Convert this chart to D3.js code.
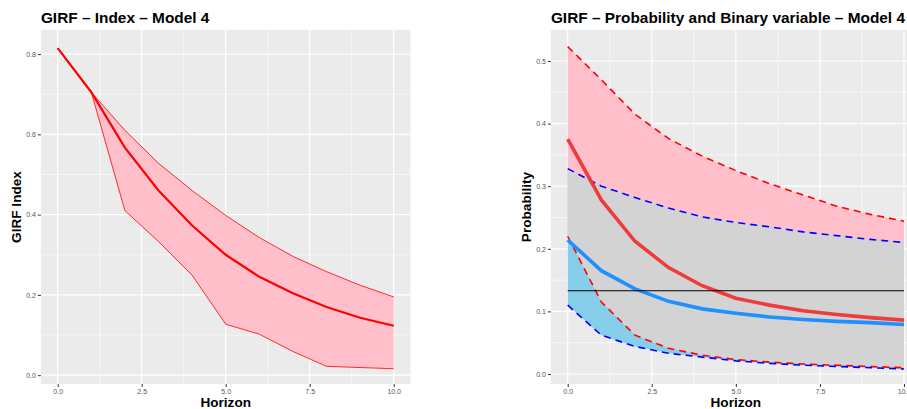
<!DOCTYPE html>
<html>
<head>
<meta charset="utf-8">
<script src="https://cdn.jsdelivr.net/npm/d3@7"></script>
<style>
  body { margin: 0; background: #fff; }
  svg { display: block; font-family: "Liberation Sans", Arial, sans-serif; }
</style>
</head>
<body>
<script>
// horizons (x axis)
var horizon = [0, 1, 2, 3, 4, 5, 6, 7, 8, 9, 10];

// left panel: GIRF of the index, with its band
var indexMid = [0.815, 0.705, 0.567, 0.460, 0.373, 0.300, 0.245, 0.204, 0.170, 0.143, 0.123];
var indexUp  = [0.815, 0.705, 0.610, 0.528, 0.460, 0.398, 0.343, 0.296, 0.258, 0.224, 0.195];
var indexLow = [0.815, 0.705, 0.410, 0.333, 0.249, 0.127, 0.102, 0.059, 0.022, 0.019, 0.016];

// right panel: probability (red) and binary variable (blue)
var probMid  = [0.375, 0.278, 0.212, 0.170, 0.141, 0.121, 0.110, 0.101, 0.095, 0.090, 0.086];
var probUp   = [0.523, 0.470, 0.415, 0.376, 0.348, 0.325, 0.304, 0.286, 0.268, 0.255, 0.244];
var probLow  = [0.220, 0.115, 0.062, 0.041, 0.030, 0.023, 0.019, 0.016, 0.014, 0.012, 0.010];
var binMid   = [0.214, 0.165, 0.136, 0.116, 0.104, 0.097, 0.091, 0.087, 0.084, 0.082, 0.079];
var binUp    = [0.328, 0.300, 0.282, 0.265, 0.251, 0.242, 0.235, 0.227, 0.221, 0.215, 0.210];
var binLow   = [0.110, 0.062, 0.044, 0.033, 0.027, 0.021, 0.017, 0.014, 0.012, 0.010, 0.008];
var threshold = 0.133;

var xTicks = [0, 2.5, 5, 7.5, 10];
var xMinor = [1.25, 3.75, 6.25, 8.75];
var leftTicks = [0, 0.2, 0.4, 0.6, 0.8];
var leftMinor = [0.1, 0.3, 0.5, 0.7];
var rightTicks = [0, 0.1, 0.2, 0.3, 0.4, 0.5];
var rightMinor = [0.05, 0.15, 0.25, 0.35, 0.45];

var W = 907, H = 409;
var panelTop = 30, panelBottom = 384;

var svg = d3.select("body").append("svg")
  .attr("width", W)
  .attr("height", H);

// sets up one ggplot-like panel and gives back its scales
function panel(left, right, yDomain, yTicks, yMinor, title, yTitle, yTitleX) {
  var x = d3.scaleLinear().domain([-0.5, 10.5]).range([left, right]);
  var y = d3.scaleLinear().domain(yDomain).range([panelBottom, panelTop]);

  svg.append("rect")
    .attr("x", left).attr("y", panelTop)
    .attr("width", right - left).attr("height", panelBottom - panelTop)
    .attr("fill", "#ebebeb");

  var grid = svg.append("g");
  grid.selectAll(".vmin").data(xMinor).enter().append("line")
    .attr("x1", function(d) { return x(d); }).attr("x2", function(d) { return x(d); })
    .attr("y1", panelTop).attr("y2", panelBottom)
    .attr("stroke", "#fff").attr("stroke-width", 0.6);
  grid.selectAll(".hmin").data(yMinor).enter().append("line")
    .attr("x1", left).attr("x2", right)
    .attr("y1", function(d) { return y(d); }).attr("y2", function(d) { return y(d); })
    .attr("stroke", "#fff").attr("stroke-width", 0.6);
  grid.selectAll(".vmaj").data(xTicks).enter().append("line")
    .attr("x1", function(d) { return x(d); }).attr("x2", function(d) { return x(d); })
    .attr("y1", panelTop).attr("y2", panelBottom)
    .attr("stroke", "#fff").attr("stroke-width", 1.2);
  grid.selectAll(".hmaj").data(yTicks).enter().append("line")
    .attr("x1", left).attr("x2", right)
    .attr("y1", function(d) { return y(d); }).attr("y2", function(d) { return y(d); })
    .attr("stroke", "#fff").attr("stroke-width", 1.2);

  // axes
  var xAxis = svg.append("g")
    .attr("transform", "translate(0," + panelBottom + ")")
    .call(d3.axisBottom(x).tickValues(xTicks).tickFormat(d3.format(".1f")).tickSize(3).tickPadding(2));
  var yAxis = svg.append("g")
    .attr("transform", "translate(" + left + ",0)")
    .call(d3.axisLeft(y).tickValues(yTicks).tickFormat(d3.format(".1f")).tickSize(3).tickPadding(2));
  [xAxis, yAxis].forEach(function(a) {
    a.select(".domain").remove();
    a.selectAll("line").attr("stroke", "#333");
    a.selectAll("text").attr("fill", "#555").style("font-size", "7px");
  });

  // labels
  svg.append("text")
    .attr("x", left).attr("y", 22.7)
    .style("font-size", "15.4px").style("font-weight", "bold")
    .text(title);
  svg.append("text")
    .attr("x", (left + right) / 2).attr("y", 406.8)
    .attr("text-anchor", "middle")
    .style("font-size", "13.6px").style("font-weight", "bold")
    .text("Horizon");
  svg.append("text")
    .attr("transform", "translate(" + yTitleX + "," + ((panelTop + panelBottom) / 2) + ") rotate(-90)")
    .attr("text-anchor", "middle")
    .style("font-size", "13.6px").style("font-weight", "bold")
    .text(yTitle);

  return {x: x, y: y};
}

function band(s, lo, hi, fill) {
  var area = d3.area()
    .x(function(d, i) { return s.x(horizon[i]); })
    .y0(function(d, i) { return s.y(lo[i]); })
    .y1(function(d, i) { return s.y(hi[i]); });
  svg.append("path").datum(horizon).attr("d", area).attr("fill", fill);
}

function curve(s, vals, color, width, dash) {
  var line = d3.line()
    .x(function(d, i) { return s.x(horizon[i]); })
    .y(function(d) { return s.y(d); });
  svg.append("path").datum(vals).attr("d", line)
    .attr("fill", "none")
    .attr("stroke", color)
    .attr("stroke-width", width)
    .attr("stroke-dasharray", dash || null);
}

// left panel
var L = panel(40.9, 410.5, [-0.022, 0.86], leftTicks, leftMinor,
  "GIRF \u2013 Index \u2013 Model 4", "GIRF Index", 21.4);
band(L, indexLow, indexUp, "pink");
curve(L, indexUp, "red", 0.8);
curve(L, indexLow, "red", 0.8);
curve(L, indexMid, "red", 2.2);

// right panel
var R = panel(550.9, 920.8, [-0.016, 0.5495], rightTicks, rightMinor,
  "GIRF \u2013 Probability and Binary variable \u2013 Model 4", "Probability", 531.4);
band(R, probLow, probUp, "pink");
band(R, binLow, binUp, "skyblue");
band(R, probLow, binUp, "lightgray");
curve(R, probUp, "red", 1.6, "7,5");
curve(R, probLow, "red", 1.6, "7,5");
curve(R, binUp, "blue", 1.6, "7,5");
curve(R, binLow, "blue", 1.6, "7,5");
curve(R, probMid, "#ee3b3b", 3.6);
curve(R, binMid, "#1e90ff", 3.6);

svg.append("line")
  .attr("x1", R.x(horizon[0])).attr("x2", R.x(horizon[horizon.length - 1]))
  .attr("y1", R.y(threshold)).attr("y2", R.y(threshold))
  .attr("stroke", "black").attr("stroke-width", 1.2);
</script>
</body>
</html>
